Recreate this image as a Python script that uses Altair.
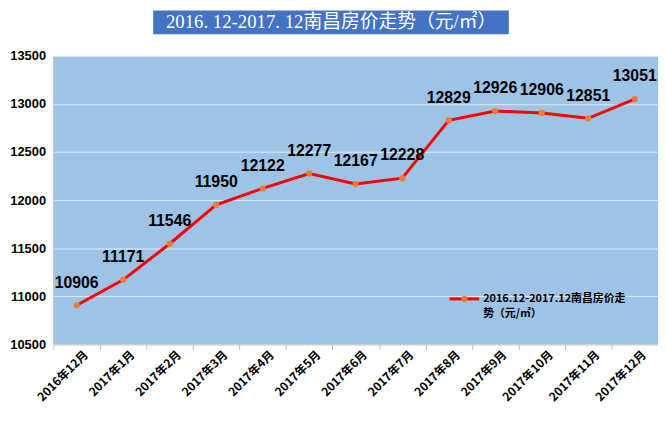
import altair as alt
import pandas as pd

months = ["2016年12月", "2017年1月", "2017年2月", "2017年3月", "2017年4月", "2017年5月",
          "2017年6月", "2017年7月", "2017年8月", "2017年9月", "2017年10月", "2017年11月", "2017年12月"]
prices = [10906, 11171, 11546, 11950, 12122, 12277, 12167, 12228, 12829, 12926, 12906, 12851, 13051]
legend_line1 = "2016.12-2017.12南昌房价走"
legend_line2 = "势（元/㎡）"
title_text = "2016. 12-2017. 12南昌房价走势（元/㎡）"

df = pd.DataFrame({"month": months, "price": prices})

PAD_L, PAD_T = 46, 46
W, H = 612, 292
FONT = "Liberation Sans, Noto Sans CJK SC, sans-serif"
CJK = "Noto Sans CJK SC, sans-serif"

x_enc = alt.X("month:N", sort=months,
              scale=alt.Scale(paddingInner=0, paddingOuter=0),
              axis=alt.Axis(title=None, labelAngle=-45, labelAlign="right", labelBaseline="middle",
                            labelFont=CJK, labelFontWeight="bold", labelFontSize=12, labelColor="#000000",
                            labelOffset=9, labelPadding=3, tickBand="extent", tickSize=5,
                            tickColor="#BFBFBF", domainColor="#BFBFBF", grid=False))
x_plain = alt.X("month:N", sort=months)
y_enc = alt.Y("price:Q", scale=alt.Scale(domain=[10500, 13500], nice=False, zero=False),
              axis=alt.Axis(title=None, values=list(range(10500, 13501, 500)), format="d", labelFont=FONT,
                            labelFontWeight="bold", labelFontSize=13, labelColor="#000000",
                            labelPadding=8, ticks=False, domainColor="#BFBFBF",
                            gridColor="#E4ECF5", gridWidth=1))

base = alt.Chart(df)
line = base.mark_line(color="#FF0000", strokeWidth=3).encode(x=x_enc, y=y_enc)
pts = base.mark_point(filled=True, color="#ED7D31", size=40, opacity=1).encode(x=x_plain, y="price:Q")
labels = base.mark_text(font=FONT, fontWeight="bold", fontSize=16, color="#000000", dy=-23).encode(
    x=x_plain, y="price:Q", text="price:Q")

# title box
tdf = pd.DataFrame({"t": [title_text]})
title_box = alt.Chart(tdf).mark_rect(color="#4472C4").encode(
    x=alt.value(155 - 8 - PAD_L), x2=alt.value(515 - 8 - PAD_L),
    y=alt.value(-PAD_T), y2=alt.value(32 - 8 - PAD_T))
title_txt = alt.Chart(tdf).mark_text(font="Liberation Serif, Noto Sans CJK SC, serif", fontSize=19,
                                     color="#FFFFFF", align="center",
                                     baseline="middle").encode(
    x=alt.value(335 - 8 - PAD_L), y=alt.value(12 - PAD_T), text="t:N")

# legend
ldf = pd.DataFrame({"a": [legend_line1], "b": [legend_line2]})
LX, LY = 455 - 8 - PAD_L, 300 - 8 - PAD_T
leg_line = alt.Chart(ldf).mark_rule(color="#FF0000", strokeWidth=3).encode(
    x=alt.value(LX), x2=alt.value(LX + 30), y=alt.value(LY))
leg_pt = alt.Chart(ldf).mark_point(filled=True, color="#ED7D31", size=40, opacity=1).encode(
    x=alt.value(LX + 15), y=alt.value(LY))
leg_t1 = alt.Chart(ldf).mark_text(font=CJK, fontWeight="bold", fontSize=11, color="#000000",
                                  align="left", baseline="middle").encode(
    x=alt.value(LX + 34), y=alt.value(LY), text="a:N")
leg_t2 = alt.Chart(ldf).mark_text(font=CJK, fontWeight="bold", fontSize=11, color="#000000",
                                  align="left", baseline="middle").encode(
    x=alt.value(LX + 34), y=alt.value(LY + 15), text="b:N")

chart = alt.layer(line, pts, labels, title_box, title_txt, leg_line, leg_pt, leg_t1, leg_t2).properties(
    width=W, height=H,
    autosize=alt.AutoSizeParams(type="none"),
    padding={"left": PAD_L, "top": PAD_T, "right": 0, "bottom": 64},
    background="#FFFFFF",
).configure_view(fill="#9DC3E6", stroke=None)

chart.save("out.html", embed_options={"renderer": "svg", "actions": False})
